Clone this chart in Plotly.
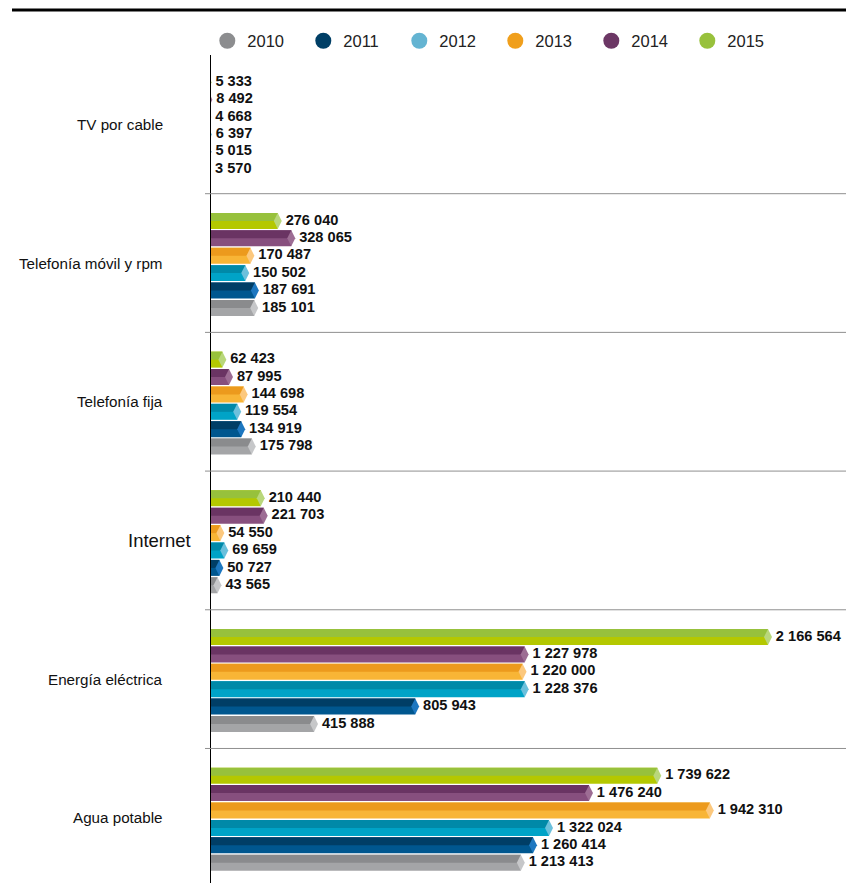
import plotly.graph_objects as go

# Categories (top to bottom) and years
categories = ["TV por cable", "Telefonía móvil y rpm", "Telefonía fija",
              "Internet", "Energía eléctrica", "Agua potable"]
years = ["2010", "2011", "2012", "2013", "2014", "2015"]

# Values per year, in category order
v2010 = [3570, 185101, 175798, 43565, 415888, 1213413]
v2011 = [5015, 187691, 134919, 50727, 805943, 1260414]
v2012 = [6397, 150502, 119554, 69659, 1228376, 1322024]
v2013 = [4668, 170487, 144698, 54550, 1220000, 1942310]
v2014 = [8492, 328065, 87995, 221703, 1227978, 1476240]
v2015 = [5333, 276040, 62423, 210440, 2166564, 1739622]
series = [v2010, v2011, v2012, v2013, v2014, v2015]

# colours: (legend dot, upper face, lower face, end cap)
palette = {
    "2010": ("#8c8d8f", "#8a8b8d", "#a4a5a7", "#c6c7c9"),
    "2011": ("#003f66", "#003e66", "#00578f", "#1d77c0"),
    "2012": ("#64b4d2", "#0089a8", "#00a3c7", "#6bc0dc"),
    "2013": ("#f09f1c", "#ec9a1d", "#f8b536", "#fcc87d"),
    "2014": ("#6c3765", "#6a3463", "#874f7e", "#9d6d94"),
    "2015": ("#98c13c", "#97c13c", "#b4c800", "#b9d77b"),
}

FONT = "Liberation Sans, Arial, sans-serif"

SLOT = 0.1254      # spacing between bars in a group (category units)
THICK = 0.1153     # bar thickness
SHIFT = 0.01       # bars sit slightly below the group centre

# bar axis and a wider label axis sharing the same units per pixel
LEFT = 200
PLOT_W = 846 - LEFT
AXIS_GAP = 11                       # px between label axis start and bar axis start
X_RANGE = [18500, 2467400]
UNITS_PER_PX = (X_RANGE[1] - X_RANGE[0]) / (PLOT_W - AXIS_GAP)
X2_RANGE = [X_RANGE[0] - AXIS_GAP * UNITS_PER_PX, X_RANGE[1]]


def fmt(v):
    return f"{v:,}".replace(",", " ")


def px(xpix):
    """Horizontal paper fraction for a page pixel."""
    return (xpix - LEFT) / PLOT_W


ypos = list(range(len(categories)))

fig = go.Figure()
annotations = []

for yi, (yr, vals) in enumerate(zip(years, series)):
    dot, upper, lower, cap = palette[yr]
    k = len(years) - 1 - yi            # 2015 on top of each group
    c = (k - (len(years) - 1) / 2) * SLOT + SHIFT
    ybar = [p + c for p in ypos]
    # lower face (full bar), then upper face over its top half
    fig.add_trace(go.Bar(
        x=vals, y=ypos, base=0, orientation="h",
        offset=c - THICK / 2, width=THICK,
        marker=dict(color=lower, line=dict(width=0)),
        showlegend=False, hoverinfo="skip"))
    fig.add_trace(go.Bar(
        x=vals, y=ypos, base=0, orientation="h",
        offset=c - THICK / 2, width=THICK / 2,
        marker=dict(color=upper, line=dict(width=0)),
        showlegend=False, hoverinfo="skip"))
    # pointed end cap
    fig.add_trace(go.Scatter(
        x=vals, y=ybar, mode="markers",
        marker=dict(symbol="diamond-tall", size=11.4, color=cap,
                    line=dict(width=0)),
        cliponaxis=True, showlegend=False, hoverinfo="skip"))
    # value labels on the wider axis, so even the tiny values keep their text
    fig.add_trace(go.Scatter(
        x=vals, y=ybar, xaxis="x2", yaxis="y", mode="markers+text",
        text=[fmt(v) for v in vals], textposition="middle right",
        textfont=dict(family=FONT, size=14.6, color="#111111", weight="bold"),
        marker=dict(size=11, color="rgba(0,0,0,0)", line=dict(width=0)),
        cliponaxis=False, showlegend=False, hoverinfo="skip"))
    # legend entry
    fig.add_trace(go.Scatter(
        x=[None], y=[None], mode="markers", name=yr,
        marker=dict(symbol="circle", size=17, color=dot)))

# category labels
for p, name in zip(ypos, categories):
    big = name == "Internet"
    annotations.append(dict(
        x=px(193) if big else px(165), y=p, xref="paper", yref="y",
        text=name, xanchor="right", yanchor="middle", showarrow=False,
        font=dict(family=FONT, size=18.5 if big else 15.2, color="#111111")))

shapes = []
# separators between groups
for p in ypos[:-1]:
    shapes.append(dict(type="line", xref="paper", yref="y",
                       x0=px(205), x1=1, y0=p + 0.5, y1=p + 0.5,
                       line=dict(color="#8f8f8f", width=1)))
# heavy rule at the top
shapes.append(dict(type="line", xref="paper", yref="paper",
                   x0=px(12), x1=1, y0=1.0543, y1=1.0543,
                   line=dict(color="#000000", width=3)))

fig.update_layout(
    width=846, height=883,
    margin=dict(l=LEFT, r=0, t=55, b=0),
    paper_bgcolor="white", plot_bgcolor="rgba(0,0,0,0)",
    barmode="overlay",
    xaxis=dict(domain=[AXIS_GAP / PLOT_W, 1], range=X_RANGE,
               showgrid=False, zeroline=False,
               showticklabels=False, showline=False, ticks=""),
    xaxis2=dict(domain=[0, 1], range=X2_RANGE, anchor="y", visible=False,
                showgrid=False, zeroline=False),
    yaxis=dict(range=[5.47, -0.5], showgrid=False, zeroline=False,
               showticklabels=False, ticks="", showline=True,
               linecolor="#000000", linewidth=1),
    legend=dict(orientation="h", x=px(207.3), y=1.0169,
                xanchor="left", yanchor="middle",
                entrywidth=51, entrywidthmode="pixels",
                font=dict(family=FONT, size=16.5, color="#222222"),
                bgcolor="rgba(0,0,0,0)"),
    annotations=annotations,
    shapes=shapes,
)

fig.write_html("out.html")
